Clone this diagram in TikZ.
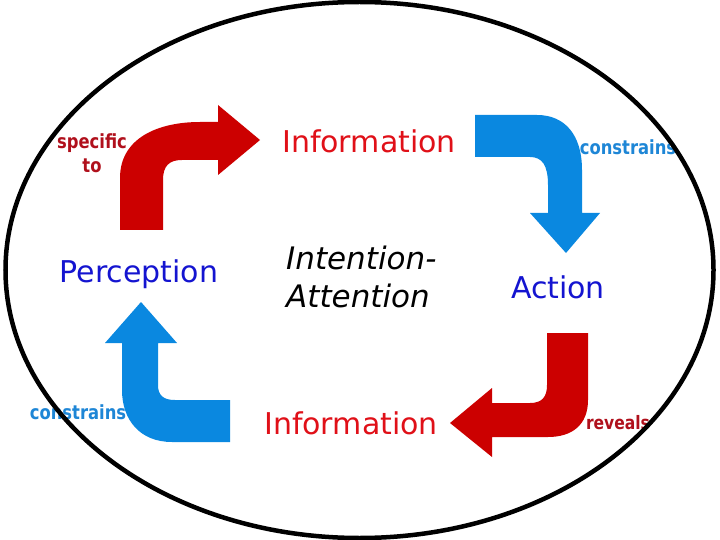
\documentclass[tikz,border=0pt]{standalone}
\usepackage{fontspec}
\setmainfont{DejaVu Sans}
\newfontfamily\narrowfont{DejaVu Sans}[FakeStretch=0.84]
\usepackage{xcolor}
\definecolor{arrowred}{HTML}{CC0000}
\definecolor{arrowblue}{HTML}{0A88E0}
\definecolor{infored}{HTML}{E01018}
\definecolor{darkred}{HTML}{B0101C}
\definecolor{lightblue}{HTML}{1E86D6}
\definecolor{deepblue}{HTML}{1414D0}
\tikzset{
  bigword/.style={inner sep=0pt,font=\fontsize{30}{38}\selectfont},
  smallword/.style={inner sep=0pt,font=\narrowfont\bfseries\fontsize{19.5}{24}\selectfont}
}

\begin{document}
\begin{tikzpicture}[x=1pt,y=-1pt]
  \useasboundingbox (0,0) rectangle (720,540);

  \path[fill=arrowred] (120,230)--(120,178) .. controls (120,138) and (158,122) .. (200,122)
    --(218,122)--(218,105)--(260,140)--(218,175)--(218,160)--(182,160)
    .. controls (169,160) and (163,166) .. (163,180)--(163,230)--cycle;
  \path[fill=arrowblue] (475,115)--(537,115) .. controls (565,115) and (582,135) .. (582,170)
    --(582,213)--(600,213)--(566,253)--(530,213)--(548,213)--(548,185)
    .. controls (548,165) and (542,157) .. (530,157)--(475,157)--cycle;
  \path[fill=arrowblue] (141,302)--(177,343)--(158,343)--(158,385)
    .. controls (158,395) and (163,400) .. (175,400)--(230,400)--(230,442)--(172,442)
    .. controls (140,442) and (122,420) .. (122,390)--(122,343)--(105,343)--cycle;
  \path[fill=arrowred] (547,333)--(588,333)--(588,400) .. controls (588,425) and (572,437) .. (548,437)
    --(492,437)--(492,457)--(450,423)--(492,388)--(492,403)--(530,403)
    .. controls (542,403) and (547,397) .. (547,385)--cycle;

  \node[smallword,darkred,align=center] (specific) at (92,153) {specific\\to};
  \node[bigword,infored] (infotop) at (369,141) {Information};
  \node[smallword,lightblue] (consright) at (628,147) {constrains};
  \node[bigword,deepblue] (perception) at (139,274) {Perception};
  \node[bigword,align=left,anchor=west,font=\itshape\fontsize{31}{38}\selectfont] (intention) at (286,277) {Intention-\\Attention};
  \node[bigword,deepblue] (action) at (558,287) {Action};
  \node[smallword,lightblue] (consleft) at (78,412) {constrains};
  \node[bigword,infored] (infobottom) at (351,423) {Information};
  \node[smallword,darkred,font=\narrowfont\bfseries\fontsize{18.5}{24}\selectfont] (reveals) at (618,423) {reveals};

  \draw[line width=4.5pt] (359.5,270) ellipse (354 and 268);
\end{tikzpicture}
\end{document}
